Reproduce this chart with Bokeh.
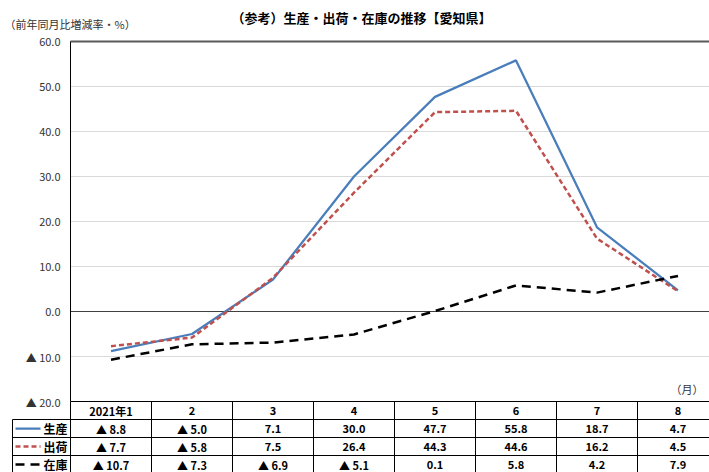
from bokeh.plotting import figure
from bokeh.models import Range1d
from bokeh.core.properties import value
from bokeh.embed import file_html
from bokeh.resources import INLINE

# --- data -------------------------------------------------------------
months = ["2021年1", "2", "3", "4", "5", "6", "7", "8"]
production = [-8.8, -5.0, 7.1, 30.0, 47.7, 55.8, 18.7, 4.7]
shipments = [-7.7, -5.8, 7.5, 26.4, 44.3, 44.6, 16.2, 4.5]
inventory = [-10.7, -7.3, -6.9, -5.1, 0.1, 5.8, 4.2, 7.9]
series_names = ["生産", "出荷", "在庫"]
y_ticks = [60, 50, 40, 30, 20, 10, 0, -10, -20]

TITLE = "（参考）生産・出荷・在庫の推移【愛知県】"
Y_LABEL = "（前年同月比増減率・%）"
X_UNIT = "（月）"


def fmt(v):
    """Decreases are written with a ▲ instead of a minus sign."""
    return f"▲ {abs(v):.1f}" if v < 0 else f"{v:.1f}"


# --- layout (canvas pixels -> data units) ------------------------------
W, H = 709, 472
LEFT_PX, TOP_PX = 70, 41      # where category 0 starts / where 60.0 sits
COL_PX = 81                   # width of one month column
UNIT_PX = 4.5                 # pixels per 1 percentage point
Y_MAX, Y_MIN = 60, -20


def px_x(px):
    return (px - LEFT_PX) / COL_PX


def px_y(py):
    return Y_MAX - (py - TOP_PX) / UNIT_PX


JP = value("Noto Sans CJK JP")
p = figure(width=W, height=H, output_backend="svg", toolbar_location=None,
           x_range=Range1d(px_x(0), px_x(W)), y_range=Range1d(px_y(H), px_y(0)),
           min_border=0, min_border_left=0, min_border_right=0,
           min_border_top=0, min_border_bottom=0)
p.axis.visible = False
p.grid.visible = False
p.outline_line_color = None
p.background_fill_color = "white"
p.border_fill_color = "white"

n = len(months)
xs = [i + 0.5 for i in range(n)]

# --- plot area frame and grid ------------------------------------------
grid_vals = [t for t in y_ticks if t not in (Y_MAX, 0, Y_MIN)]
p.segment(x0=[0] * len(grid_vals), x1=[n] * len(grid_vals), y0=grid_vals, y1=grid_vals,
          line_color="#d9d9d9", line_width=1)
p.segment(x0=[0], x1=[n], y0=[0], y1=[0], line_color="#404040", line_width=1)
p.segment(x0=[0], x1=[n], y0=[Y_MAX], y1=[Y_MAX], line_color="#5a5a5a", line_width=2)
p.segment(x0=[0], x1=[0], y0=[Y_MAX], y1=[Y_MIN], line_color="black", line_width=1)

# --- y tick labels -----------------------------------------------------
p.text(x=[px_x(60)] * len(y_ticks), y=y_ticks, text=[fmt(t) for t in y_ticks],
       text_align="right", text_baseline="middle", text_font=JP,
       text_font_size="11px", text_color="#333333")

# --- series ------------------------------------------------------------
styles = [
    dict(line_color="#4a7ebb", line_width=2.25, line_dash="solid"),
    dict(line_color="#c0504d", line_width=2.5, line_dash="5 3"),
    dict(line_color="black", line_width=2.5, line_dash="9 6"),
]
series = [production, shipments, inventory]
for vals, st in zip(series, styles):
    p.line(x=xs, y=vals, **st)

# --- titles ------------------------------------------------------------
p.text(x=[px_x(361)], y=[px_y(17)], text=[TITLE], text_align="center",
       text_baseline="middle", text_font=JP, text_font_size="13px",
       text_font_style="bold", text_color="black")
p.text(x=[px_x(4)], y=[px_y(23)], text=[Y_LABEL], text_align="left",
       text_baseline="middle", text_font=JP, text_font_size="11px",
       text_color="#333333")
p.text(x=[px_x(703)], y=[px_y(388)], text=[X_UNIT], text_align="right",
       text_baseline="middle", text_font=JP, text_font_size="11px",
       text_color="#333333")

# --- data table under the chart ----------------------------------------
ROW = 4.0                      # row height in value units
label_left = px_x(12)
rows_top = [Y_MIN - ROW * k for k in range(1, 4)]
bottom = Y_MIN - ROW * 5

p.segment(x0=[0], x1=[n + 1], y0=[Y_MIN], y1=[Y_MIN], line_color="black", line_width=1)
p.segment(x0=[label_left] * 3, x1=[n + 1] * 3, y0=rows_top, y1=rows_top,
          line_color="black", line_width=1)
p.segment(x0=list(range(n + 1)), x1=list(range(n + 1)), y0=[Y_MIN] * (n + 1),
          y1=[bottom] * (n + 1), line_color="black", line_width=1)
p.segment(x0=[label_left], x1=[label_left], y0=[rows_top[0]], y1=[bottom],
          line_color="black", line_width=1)

header_y = Y_MIN - ROW / 2
p.text(x=xs, y=[header_y] * n, text=months, text_align="center",
       text_baseline="middle", text_font=JP, text_font_size="11px",
       text_font_style="bold", text_color="black")

for k, (name, vals, st) in enumerate(zip(series_names, series, styles)):
    cy = Y_MIN - ROW * (k + 1.5)
    p.text(x=xs, y=[cy] * n, text=[fmt(v) for v in vals], text_align="center",
           text_baseline="middle", text_font=JP, text_font_size="11px",
           text_font_style="bold", text_color="black")
    p.line(x=[px_x(15), px_x(40)], y=[cy, cy], **st)
    p.text(x=[px_x(67)], y=[cy], text=[name], text_align="right",
           text_baseline="middle", text_font=JP, text_font_size="12px",
           text_font_style="bold", text_color="black")

open("out.html", "w").write(file_html(p, INLINE))
